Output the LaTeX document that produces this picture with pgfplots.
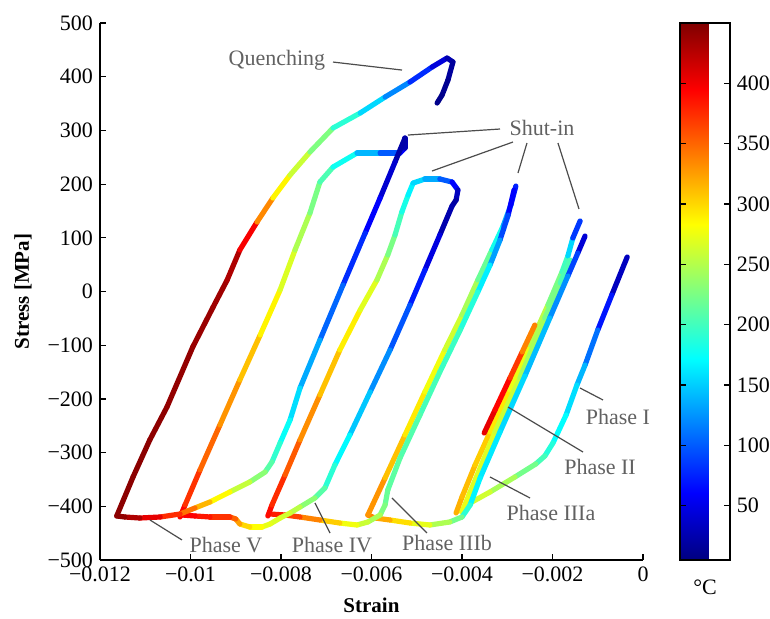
\documentclass[border=0pt]{standalone}
\usepackage{fontspec}
\setmainfont{Liberation Serif}
\usepackage{pgfplots}
\pgfplotsset{compat=1.18}
\definecolor{annot}{gray}{0.38}

\begin{document}
\begin{tikzpicture}
\pgfplotsset{tc/.style={mesh, point meta=explicit, no markers, line width=2.6pt, line cap=round, line join=round}}
\begin{axis}[name=main,
  width=271.5pt, height=268.5pt, scale only axis,
  xmin=-0.012, xmax=0, ymin=-500, ymax=500,
  axis lines=left, axis line style={-, line width=0.8pt},
  tick align=inside, major tick length=3pt, tick style={black, line width=0.6pt},
  scaled ticks=false,
  xtick={-0.012,-0.01,-0.008,-0.006,-0.004,-0.002,0},
  xticklabels={−0.012,−0.01,−0.008,−0.006,−0.004,−0.002,0},
  ytick={-500,-400,-300,-200,-100,0,100,200,300,400,500},
  yticklabels={−500,−400,−300,−200,−100,0,100,200,300,400,500},
  ticklabel style={font=\fontsize{11}{13}\selectfont},
  xlabel={\textbf{Strain}}, ylabel={\textbf{Stress [MPa]}},
  label style={font=\fontsize{10.5}{13}\selectfont},
  xlabel style={at={(axis description cs:0.5,-0.0838)}, anchor=center},
  ylabel style={at={(axis description cs:-0.1418,0.5)}, anchor=center},
  colormap/jet, point meta min=5, point meta max=450,
  colorbar,
  colorbar style={at={(1.068,1)}, anchor=north west, width=25pt,
    ytick={50,100,150,200,250,300,350,400},
    yticklabels={50,100,150,200,250,300,350,400},
    yticklabel style={font=\fontsize{11}{13}\selectfont},
    ytick pos=both, yticklabel pos=right,
    tick align=inside, major tick length=3pt,
    tick style={black, line width=0.6pt},
    axis line style={line width=0.8pt}},
  clip=false,
]
% Phase I + IIIa
\addplot[tc] table[meta=T] {
x y T
-0.00035 64.2 15
-0.00069 -6.5 50
-0.00100 -71.7 90
-0.00128 -136.9 130
-0.00146 -174.1 150
-0.00170 -230.0 165
-0.00199 -282.1 180
-0.00217 -306.3 195
-0.00237 -321.2 210
-0.00283 -345.4 235
-0.00338 -373.3 255
-0.00382 -393.8 270
-0.00404 -408.7 285
};
% Phase II bundle
\addplot[tc] table[meta=T] {
x y T
-0.00413 -412.4 320
-0.00400 -382.7 315
-0.00371 -323.1 310
-0.00338 -261.6 300
-0.00294 -183.4 285
-0.00250 -99.6 265
-0.00210 -25.1 240
-0.00179 36.3 210
-0.00166 66.1 190
-0.00155 99.6 120
-0.00139 131.3 50
};
\addplot[tc] table[meta=T] {
x y T
-0.00400 -410.6 275
-0.00382 -373.3 272
-0.00327 -261.6 265
-0.00272 -161.1 255
-0.00217 -49.3 235
-0.00183 15.8 215
-0.00161 58.7 195
};
\addplot[tc] table[meta=T] {
x y T
-0.00351 -263.5 410
-0.00327 -220.6 400
-0.00294 -161.1 385
-0.00267 -112.7 355
-0.00239 -62.4 320
};
\addplot[tc] table[meta=T] {
x y T
-0.00128 103.3 15
-0.00144 71.7 70
-0.00166 28.9 110
-0.00206 -49.3 135
-0.00261 -157.3 150
-0.00316 -261.6 160
-0.00360 -347.3 165
-0.00382 -397.5 170
-0.00400 -419.9 210
-0.00427 -429.2 235
-0.00471 -434.8 260
-0.00515 -431.1 285
-0.00559 -425.5 310
-0.00592 -421.8 330
-0.00608 -416.2 345
};
% Phase IIIb cycle
\addplot[tc] table[meta=T] {
x y T
-0.00608 -416.2 340
-0.00570 -347.3 320
-0.00526 -267.2 300
-0.00482 -187.1 285
-0.00438 -108.9 270
-0.00400 -43.8 255
-0.00365 21.4 235
-0.00334 77.3 200
-0.00309 122.0 160
-0.00292 161.1 110
-0.00281 196.4 40
};
\addplot[tc] table[meta=T] {
x y T
-0.00285 189.0 45
-0.00298 142.4 75
-0.00316 95.9 110
-0.00338 49.3 150
-0.00365 -0.9 180
-0.00404 -71.7 195
-0.00449 -149.9 200
-0.00493 -230.0 205
-0.00537 -310.0 210
-0.00564 -369.6 215
-0.00570 -397.5 220
-0.00581 -416.2 235
-0.00608 -429.2 255
-0.00632 -434.8 265
-0.00670 -431.1 290
-0.00714 -425.5 320
-0.00758 -419.9 355
-0.00791 -416.2 375
-0.00824 -414.3 390
};
% Phase IV cycle
\addplot[tc] table[meta=T] {
x y T
-0.00829 -418.0 395
-0.00820 -397.5 385
-0.00791 -341.7 365
-0.00758 -276.5 345
-0.00714 -192.7 320
-0.00670 -108.9 300
-0.00625 -34.4 280
-0.00588 21.4 260
-0.00564 68.0 235
-0.00548 105.2 215
-0.00533 148.0 190
-0.00519 179.7 175
-0.00508 202.0 160
-0.00482 209.5 150
-0.00449 209.5 120
-0.00422 203.9 80
-0.00409 189.0 40
-0.00413 170.4 25
-0.00422 159.2 15
};
\addplot[tc] table[meta=T] {
x y T
-0.00422 159.2 15
-0.00449 105.2 35
-0.00482 40.0 60
-0.00515 -25.1 85
-0.00559 -108.9 110
-0.00603 -187.1 135
-0.00648 -267.2 160
-0.00681 -323.1 180
-0.00703 -365.9 200
-0.00725 -384.5 220
-0.00758 -401.3 245
-0.00780 -412.5 260
-0.00802 -421.8 265
-0.00824 -432.9 270
-0.00842 -438.5 275
-0.00869 -438.5 290
-0.00891 -432.9 310
-0.00900 -423.6 340
-0.00913 -419.9 365
-0.00957 -419.9 380
-0.00990 -418.0 390
-0.01019 -416.2 400
};
% Phase V cycle
\addplot[tc] table[meta=T] {
x y T
-0.01023 -419.9 400
-0.01012 -397.5 385
-0.00979 -332.4 360
-0.00935 -248.6 340
-0.00891 -164.8 320
-0.00846 -81.0 300
-0.00802 2.8 275
-0.00769 77.3 260
-0.00736 146.2 235
-0.00714 203.9 215
-0.00685 231.8 195
-0.00632 257.9 160
-0.00581 257.9 120
-0.00537 257.9 80
-0.00526 267.2 40
-0.00526 285.8 15
};
\addplot[tc] table[meta=T] {
x y T
-0.00526 285.8 15
-0.00548 241.1 30
-0.00581 174.1 50
-0.00614 108.9 70
-0.00663 12.1 90
-0.00714 -90.3 120
-0.00758 -179.7 150
-0.00780 -239.3 165
-0.00802 -282.1 185
-0.00820 -317.5 200
-0.00835 -336.1 220
-0.00869 -354.7 245
-0.00913 -373.3 270
-0.00957 -392.0 300
-0.00990 -403.1 330
-0.01023 -414.3 360
-0.01067 -419.9 390
-0.01112 -421.8 420
-0.01145 -419.9 440
-0.01163 -418.0 445
};
% Quenching
\addplot[tc] table[meta=T] {
x y T
-0.01163 -418.0 445
-0.01127 -345.4 445
-0.01090 -276.5 445
-0.01052 -215.1 443
-0.00995 -103.3 440
-0.00950 -28.9 438
-0.00919 21.4 435
-0.00891 77.3 425
-0.00853 129.4 370
-0.00818 174.1 300
-0.00780 216.9 275
-0.00736 259.8 245
-0.00685 304.5 210
-0.00625 332.4 170
-0.00570 362.2 140
-0.00515 390.1 100
-0.00466 418.1 60
-0.00433 434.8 30
-0.00420 427.4 20
-0.00431 393.8 15
-0.00444 365.9 10
-0.00455 351.0 10
};

% annotations
\tikzset{lead/.style={draw=black!70, line width=0.6pt},
  lab/.style={text=annot, font=\fontsize{11}{13}\selectfont, inner sep=0pt}}
\node[lab] at (axis cs:-0.008089,431.1) {Quenching};
\draw[lead] (axis cs:-0.006851,427.3) -- (axis cs:-0.005326,412.4);
\node[lab] at (axis cs:-0.002232,304.4) {Shut-in};
\draw[lead] (axis cs:-0.003160,302.6) -- (axis cs:-0.005194,291.4);
\draw[lead] (axis cs:-0.002873,278.4) -- (axis cs:-0.004663,224.4);
\draw[lead] (axis cs:-0.002564,276.5) -- (axis cs:-0.002763,220.6);
\draw[lead] (axis cs:-0.001879,276.5) -- (axis cs:-0.001414,153.6);
\node[lab] at (axis cs:-0.009216,-472.0) {Phase V};
\draw[lead] (axis cs:-0.010188,-462.7) -- (axis cs:-0.010895,-425.5);
\node[lab] at (axis cs:-0.006873,-472.0) {Phase IV};
\draw[lead] (axis cs:-0.006917,-449.7) -- (axis cs:-0.007249,-393.8);
\node[lab] at (axis cs:-0.004332,-468.3) {Phase IIIb};
\draw[lead] (axis cs:-0.004774,-449.7) -- (axis cs:-0.005547,-384.5);
\node[lab] at (axis cs:-0.002033,-412.4) {Phase IIIa};
\draw[lead] (axis cs:-0.002497,-384.5) -- (axis cs:-0.003381,-345.4);
\node[lab] at (axis cs:-0.000950,-326.8) {Phase II};
\draw[lead] (axis cs:-0.001326,-298.9) -- (axis cs:-0.002984,-215.1);
\node[lab] at (axis cs:-0.000553,-233.7) {Phase I};
\draw[lead] (axis cs:-0.000884,-202.0) -- (axis cs:-0.001392,-179.7);
\end{axis}
\node[font=\fontsize{11}{13}\selectfont] at ([shift={(302.5pt,-13.5pt)}]main.south west) {°C};
\pgfresetboundingbox
\path[use as bounding box] ([shift={(-50pt,-29pt)}]main.south west) rectangle ([shift={(335pt,280pt)}]main.south west);
\end{tikzpicture}
\end{document}
